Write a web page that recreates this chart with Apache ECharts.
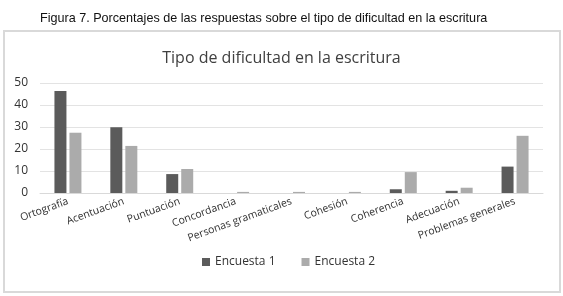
<!DOCTYPE html>
<html>
<head>
    <meta charset="UTF-8">
    <title>Tipo de dificultad en la escritura</title>
    <script src="https://cdn.jsdelivr.net/npm/echarts@6/dist/echarts.min.js"></script>
    <style>
        body { margin: 0; background: #fff; }
    </style>
</head>
<body>

<div id="main" style="width: 563px;height:296px"></div>

<script type="text/javascript">
    // datos
    var categorias = ['Ortografía', 'Acentuación', 'Puntuación', 'Concordancia', 'Personas gramaticales',
        'Cohesión', 'Coherencia', 'Adecuación', 'Problemas generales'];
    var encuesta1 = [46.4, 29.9, 8.6, 0, 0, 0, 1.7, 1.0, 12];
    var encuesta2 = [27.4, 21.4, 10.9, 0.5, 0.5, 0.5, 9.5, 2.4, 26];
    var ticksY = [0, 10, 20, 30, 40, 50];

    var myChart = echarts.init(document.getElementById('main'));
    var option = {
        animation: false,
        title: [{
            text: 'Figura 7. Porcentajes de las respuestas sobre el tipo de dificultad en la escritura',
            left: 35,
            top: 7,
            textStyle: { fontFamily: 'Liberation Sans', fontSize: 12.6, fontWeight: 'normal', color: '#111' }
        }, {
            text: 'Tipo de dificultad en la escritura',
            left: 'center',
            top: 45,
            textStyle: { fontFamily: 'Open Sans', fontSize: 16, fontWeight: 'normal', color: '#404040' }
        }],
        graphic: [{
            type: 'rect',
            shape: { x: 4, y: 31, width: 556, height: 261 },
            style: { fill: 'none', stroke: '#d9d9d9', lineWidth: 2 },
            z: -1
        }],
        legend: {
            data: ['Encuesta 1', 'Encuesta 2'],
            bottom: 23,
            left: 197,
            itemWidth: 8,
            itemHeight: 8,
            itemGap: 26,
            icon: 'rect',
            textStyle: { fontFamily: 'Open Sans', fontSize: 12, color: '#333' }
        },
        grid: { left: 40, right: 20, top: 83, bottom: 103 },
        xAxis: {
            type: 'category',
            data: categorias,
            axisLine: { lineStyle: { color: '#d9d9d9' } },
            axisTick: { show: false },
            axisLabel: {
                rotate: 20,
                interval: 0,
                margin: 8,
                fontFamily: 'Open Sans',
                fontSize: 10.5,
                color: '#333'
            }
        },
        yAxis: {
            type: 'value',
            min: ticksY[0],
            max: ticksY[ticksY.length - 1],
            interval: 10,
            axisLine: { show: false },
            axisTick: { show: false },
            axisLabel: { fontFamily: 'Open Sans', fontSize: 12, color: '#333', margin: 12 },
            splitLine: { lineStyle: { color: '#e3e3e3' } }
        },
        series: [{
            name: 'Encuesta 1',
            type: 'bar',
            barWidth: 12,
            barGap: '25%',
            itemStyle: { color: '#5b5b5b' },
            data: encuesta1
        }, {
            name: 'Encuesta 2',
            type: 'bar',
            barWidth: 12,
            itemStyle: { color: '#ababab' },
            data: encuesta2
        }]
    };
    myChart.setOption(option);
</script>
</body>
</html>
